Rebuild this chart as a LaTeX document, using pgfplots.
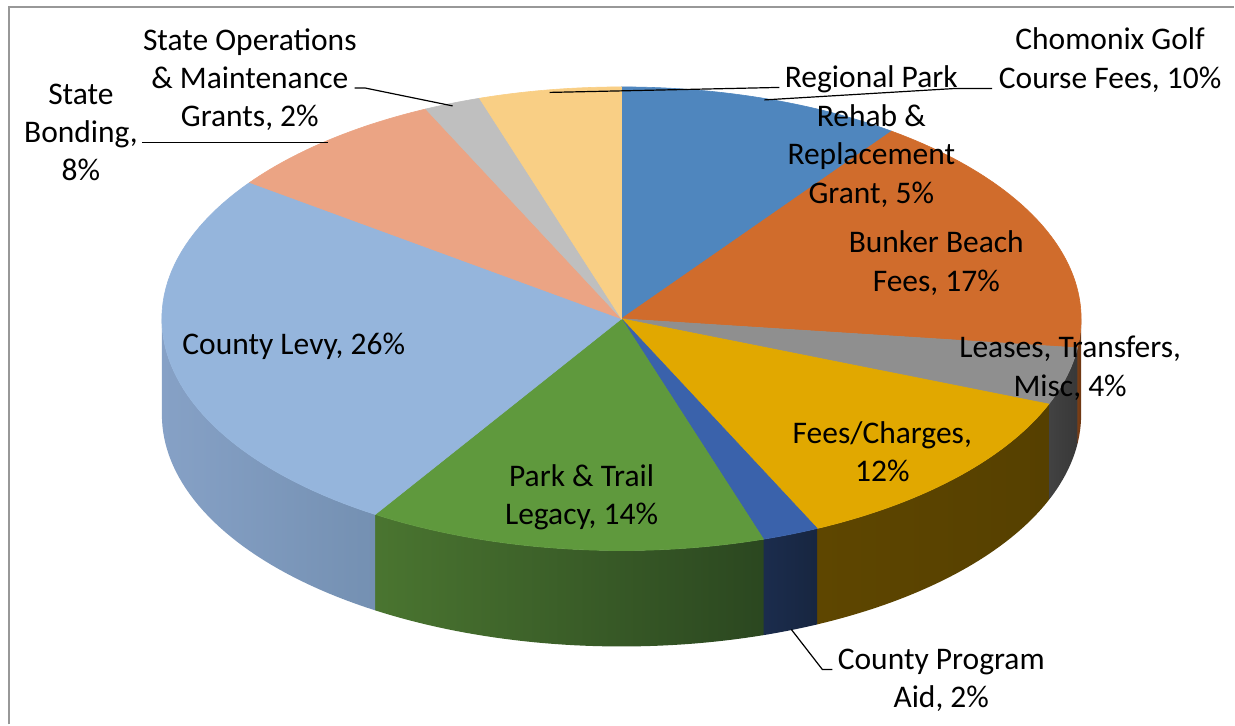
\documentclass[border=0pt]{standalone}
\usepackage{pgfplots}
\pgfplotsset{compat=1.18}
\usepackage{pgfplotstable}
\usepackage{fontspec}
\setmainfont{Carlito}

\definecolor{cChom}{HTML}{4F86BE}
\definecolor{cBunk}{HTML}{D06C2C}
\definecolor{cLeas}{HTML}{8F8F8F}
\definecolor{cFees}{HTML}{E1A800}
\definecolor{cCPA}{HTML}{3A62AB}
\definecolor{cPT}{HTML}{5F993D}
\definecolor{cLevy}{HTML}{95B5DC}
\definecolor{cBond}{HTML}{EBA484}
\definecolor{cSOM}{HTML}{BFBFBF}
\definecolor{cReg}{HTML}{F9CF85}
% side (front wall) colours
\definecolor{sBunkL}{HTML}{7A3E16}
\definecolor{sBunkR}{HTML}{6A3512}
\definecolor{sLeasL}{HTML}{424242}
\definecolor{sLeasR}{HTML}{383838}
\definecolor{sFeesL}{HTML}{5E4600}
\definecolor{sFeesR}{HTML}{564000}
\definecolor{sCPAL}{HTML}{1B2C4D}
\definecolor{sCPAR}{HTML}{172640}
\definecolor{sPTL}{HTML}{4A7530}
\definecolor{sPTR}{HTML}{2B4720}
\definecolor{sLevyL}{HTML}{86A1C6}
\definecolor{sLevyR}{HTML}{7490B2}
\definecolor{borderc}{HTML}{989898}

% percentages, clockwise from 12 o'clock
\pgfplotstableread{
value top   sideL  sideR
10    cChom cChom  cChom
17    cBunk sBunkL sBunkR
4     cLeas sLeasL sLeasR
12    cFees sFeesL sFeesR
2     cCPA  sCPAL  sCPAR
14    cPT   sPTL   sPTR
26    cLevy sLevyL sLevyR
8     cBond cBond  cBond
2     cSOM  cSOM   cSOM
5     cReg  cReg   cReg
}\piedata

\newcommand\lbl[3]{\node[anchor=base, inner sep=0pt, font=\fontsize{15.75}{19}\selectfont] at (axis cs:#1,#2) {#3};}

\begin{document}
\begin{tikzpicture}
\begin{axis}[
  scale only axis, width=617.5pt, height=362.5pt,
  xmin=0, xmax=1235, ymin=0, ymax=725, y dir=reverse,
  hide axis, clip=false]
\addplot[draw=none, fill=white] coordinates {(0,0) (1235,0) (1235,725) (0,725)} -- cycle;
\addplot[color=borderc, line width=1pt] coordinates {(8.7,725) (8.7,7.3) (1235,7.3)};

% front walls
\xdef\curang{90}
\foreach \i in {0,...,9}{
  \pgfplotstablegetelem{\i}{value}\of\piedata \let\val\pgfplotsretval
  \pgfplotstablegetelem{\i}{sideL}\of\piedata \let\csl\pgfplotsretval
  \pgfplotstablegetelem{\i}{sideR}\of\piedata \let\csr\pgfplotsretval
  \pgfmathsetmacro\a{\curang}
  \pgfmathsetmacro\b{\curang-3.6*\val}
  \xdef\curang{\b}
  \pgfmathsetmacro\ap{min(\a,0)}
  \pgfmathsetmacro\bp{max(\b,-180)}
  \pgfmathsetmacro\dd{\bp-\ap}
  \pgfmathtruncatemacro\vis{\ap>\bp}
  \ifnum\vis=1
    \edef\tmp{\noexpand\addplot[draw=none, left color=\csl, right color=\csr, domain=0:3, samples=121]
      ({622+460*cos((x<=1) ? (\ap+(\dd)*x) : ((x<=2) ? (\bp) : (\bp-(\dd)*(x-2))))},
       {319-232*sin((x<=1) ? (\ap+(\dd)*x) : ((x<=2) ? (\bp) : (\bp-(\dd)*(x-2)))) + ((x<=1) ? 0 : ((x<=2) ? 96*(x-1) : 96))}) -- cycle;}
    \tmp
  \fi
}

% top faces
\xdef\curang{90}
\foreach \i in {0,...,9}{
  \pgfplotstablegetelem{\i}{value}\of\piedata \let\val\pgfplotsretval
  \pgfplotstablegetelem{\i}{top}\of\piedata \let\ctop\pgfplotsretval
  \pgfmathsetmacro\a{\curang}
  \pgfmathsetmacro\b{\curang-3.6*\val}
  \xdef\curang{\b}
  \edef\tmp{\noexpand\addplot[fill=\ctop, draw=\ctop, line width=0.3pt, domain=\b:\a, samples=60]
    ({622+460*cos(x)},{319-232*sin(x)}) -- (622,319) -- cycle;}
  \tmp
}

% leader lines
\addplot[black, line width=0.6pt] coordinates {(993,88.5) (957,88.5) (765,100)};
\addplot[black, line width=0.6pt] coordinates {(780,87.5) (550,92.5)};
\addplot[black, line width=0.6pt] coordinates {(355,88) (365,88) (453,106)};
\addplot[black, line width=0.6pt] coordinates {(142,143) (328,143)};
\addplot[black, line width=0.6pt] coordinates {(792,630) (823,670) (833,670)};

% labels
\lbl{1111}{50}{Chomonix Golf}
\lbl{1111}{88.3}{Course Fees, 10\%}
\lbl{872}{88}{Regional Park}
\lbl{872}{126.5}{Rehab \&}
\lbl{872}{165}{Replacement}
\lbl{872}{203.3}{Grant, 5\%}
\lbl{250}{51}{State Operations}
\lbl{250}{89}{\& Maintenance}
\lbl{250}{127}{Grants, 2\%}
\lbl{81}{104.5}{State}
\lbl{81}{142.5}{Bonding,}
\lbl{81}{181}{8\%}
\lbl{937}{253}{Bunker Beach}
\lbl{937}{291.5}{Fees, 17\%}
\lbl{1071}{358}{Leases, Transfers,}
\lbl{1071}{397}{Misc, 4\%}
\lbl{883}{443.5}{Fees/Charges,}
\lbl{883}{482}{12\%}
\lbl{942}{670}{County Program}
\lbl{942}{708}{Aid, 2\%}
\lbl{582}{487}{Park \& Trail}
\lbl{582}{525}{Legacy, 14\%}
\lbl{294}{355}{County Levy, 26\%}
\end{axis}
\end{tikzpicture}
\end{document}
